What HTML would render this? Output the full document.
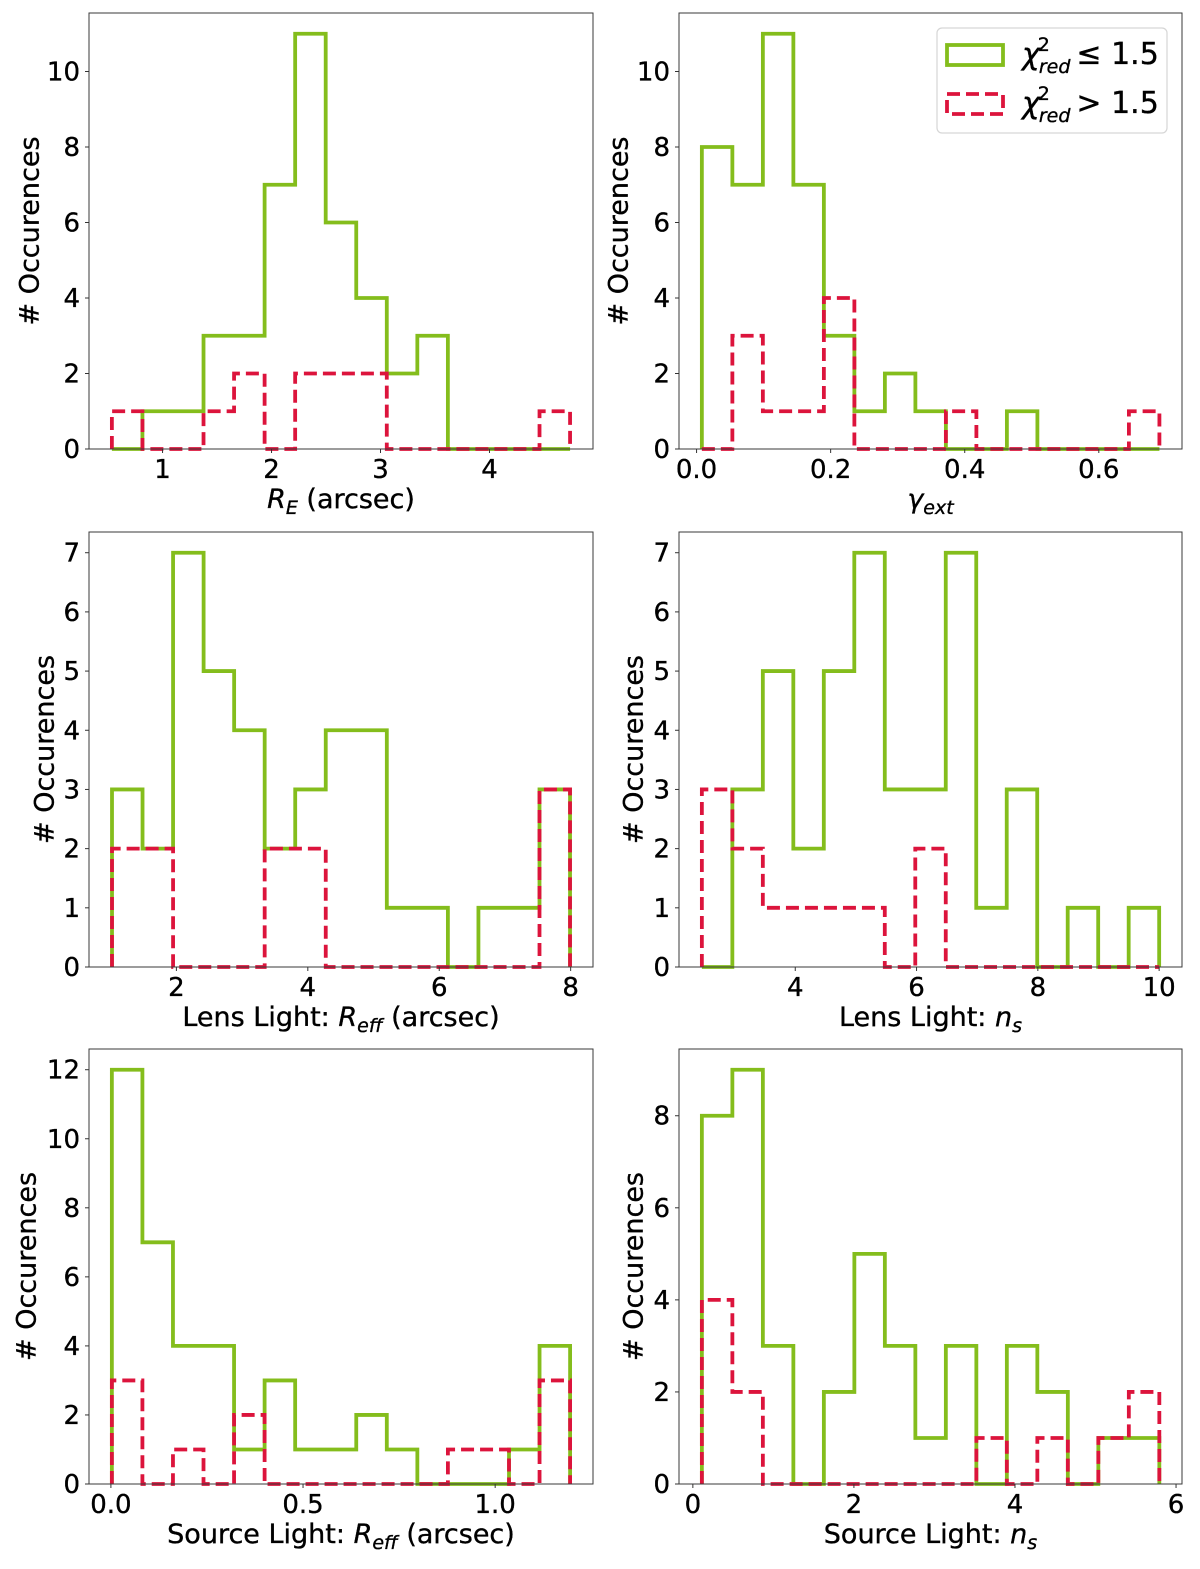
<!DOCTYPE html>
<html><head><meta charset="utf-8">
<style>
html,body{margin:0;padding:0;background:#fff;}
svg{display:block;font-family:"DejaVu Sans","Liberation Sans",sans-serif;}
text{stroke:#000;stroke-width:0.35px;}
</style></head>
<body>
<svg id="fig" width="1200" height="1569" viewBox="0 0 1200 1569" xmlns="http://www.w3.org/2000/svg">
<g id="legend">
  <rect x="937" y="28" width="230" height="105" rx="5" fill="#fff" stroke="#d6d6d6" stroke-width="1.2"/>
  <rect x="947" y="45" width="56" height="20" fill="none" stroke="#84bd1c" stroke-width="3.8"/>
  <text x="1022" y="64" font-size="30" fill="#000"><tspan font-style="italic">χ</tspan><tspan font-size="19" dy="-13" dx="-2">2</tspan><tspan font-size="19" font-style="italic" dy="22" dx="-11">red</tspan><tspan dy="-9" dx="6">≤ 1.5</tspan></text>
  <rect x="947" y="94" width="56" height="20" fill="none" stroke="#dc143c" stroke-width="3.8" stroke-dasharray="13,6"/>
  <text x="1022" y="113" font-size="30" fill="#000"><tspan font-style="italic">χ</tspan><tspan font-size="19" dy="-13" dx="-2">2</tspan><tspan font-size="19" font-style="italic" dy="22" dx="-11">red</tspan><tspan dy="-9" dx="6">&gt; 1.5</tspan></text>
</g>
</svg>
<script>
// Panel 1: Einstein radius
const p1Start = 0.535, p1Width = 0.2803;
const p1Good = [0,1,1,3,3,7,11,6,4,2,3,0,0,0,0];
const p1Bad  = [1,0,0,1,2,0,2,2,2,0,0,0,0,0,1];
const p1XTicks = [1,2,3,4];
const p1YTicks = [0,2,4,6,8,10];
// Panel 2: external shear
const p2Start = 0.0079, p2Width = 0.0455;
const p2Good = [8,7,11,7,3,1,2,1,0,0,1,0,0,0,0];
const p2Bad  = [0,3,1,1,4,0,0,0,1,0,0,0,0,0,1];
const p2XTicks = [0.0,0.2,0.4,0.6];
const p2XTickLabels = ["0.0","0.2","0.4","0.6"];
const p2YTicks = [0,2,4,6,8,10];
// Panel 3: lens light R_eff
const p3Start = 1.02, p3Width = 0.4647;
const p3Good = [3,2,7,5,4,2,3,4,4,1,1,0,1,1,3];
const p3Bad  = [2,2,0,0,0,2,2,0,0,0,0,0,0,0,3];
const p3XTicks = [2,4,6,8];
const p3YTicks = [0,1,2,3,4,5,6,7];
// Panel 4: lens light n_s
const p4Start = 2.46, p4Width = 0.5027;
const p4Good = [0,3,5,2,5,7,3,3,7,1,3,0,1,0,1];
const p4Bad  = [3,2,1,1,1,1,0,2,0,0,0,0,0,0,0];
const p4XTicks = [4,6,8,10];
const p4YTicks = [0,1,2,3,4,5,6,7];
// Panel 5: source light R_eff
const p5Start = 0.0025, p5Width = 0.0795;
const p5Good = [12,7,4,4,1,3,1,1,2,1,0,0,0,1,4];
const p5Bad  = [3,0,1,0,2,0,0,0,0,0,0,1,1,0,3];
const p5XTicks = [0.0,0.5,1.0];
const p5XTickLabels = ["0.0","0.5","1.0"];
const p5YTicks = [0,2,4,6,8,10,12];
// Panel 6: source light n_s
const p6Start = 0.112, p6Width = 0.3787;
const p6Good = [8,9,3,0,2,5,3,1,3,0,3,2,0,1,1];
const p6Bad  = [4,2,0,0,0,0,0,0,0,1,0,1,0,1,2];
const p6XTicks = [0,2,4,6];
const p6YTicks = [0,2,4,6,8];

const NS = "http://www.w3.org/2000/svg";
const svg = document.getElementById('fig');
const legend = document.getElementById('legend');
function mk(tag, attrs, parent){
  const e = document.createElementNS(NS, tag);
  for (const k in attrs) e.setAttribute(k, attrs[k]);
  (parent||svg).appendChild(e);
  return e;
}
function histPath(start, width, counts, sx, sy){
  let d = 'M' + sx(start) + ',' + sy(0);
  for (let i=0;i<counts.length;i++){
    const a = start + i*width, b = start + (i+1)*width;
    d += ' L' + sx(a) + ',' + sy(counts[i]) + ' L' + sx(b) + ',' + sy(counts[i]);
  }
  d += ' L' + sx(start + counts.length*width) + ',' + sy(0);
  return d;
}
function mathLabel(t, parts){
  for (const p of parts){
    const ts = mk('tspan', {}, t);
    ts.textContent = p.t;
    if (p.it) ts.setAttribute('font-style','italic');
    if (p.sub){ ts.setAttribute('font-size','19'); ts.setAttribute('dy','6'); }
    if (p.up){ ts.setAttribute('dy','-6'); }
  }
}
function panel(cfg){
  const {name, box, xdom, ymax, start, width, good, bad, xticks, xlabels, yticks, ylabX, xlabel} = cfg;
  const g = mk('g', {});
  
  
  const [L,T,R,B] = box;
  const ytop = ymax*1.05;
  const sx = v => L + (v - xdom[0])/(xdom[1]-xdom[0])*(R-L);
  const sy = v => B - v/ytop*(B-T);
  const gp = mk('path', {d: histPath(start,width,good,sx,sy), fill:'none', stroke:'#84bd1c', 'stroke-width':3.8, 'stroke-linejoin':'miter'}, g);
  
  
  const bp = mk('path', {d: histPath(start,width,bad,sx,sy), fill:'none', stroke:'#dc143c', 'stroke-width':3.8, 'stroke-dasharray':'13,6', 'stroke-linejoin':'miter'}, g);
  
  
  const fr = mk('rect', {x:L, y:T, width:R-L, height:B-T, fill:'none', stroke:'#3a3a3a', 'stroke-width':1}, g);
  
  
  xticks.forEach((v,i)=>{
    const x = sx(v);
    mk('line', {x1:x, x2:x, y1:B, y2:B+4, stroke:'#333', 'stroke-width':1}, g);
    const t = mk('text', {x:x, y:B+29, 'font-size':26, 'text-anchor':'middle', fill:'#000'}, g);
    
    
    t.textContent = xlabels ? xlabels[i] : String(v);
  });
  yticks.forEach(v=>{
    const y = sy(v);
    mk('line', {x1:L-4, x2:L, y1:y, y2:y, stroke:'#333', 'stroke-width':1}, g);
    const t = mk('text', {x:L-9, y:y+9, 'font-size':26, 'text-anchor':'end', fill:'#000'}, g);
    
    
    t.textContent = String(v);
  });
  const cy = (T+B)/2;
  const yl = mk('text', {x:ylabX, y:cy, 'font-size':27, 'text-anchor':'middle', transform:'rotate(-90 '+ylabX+' '+cy+')', 'dominant-baseline':'central', fill:'#000'}, g);
  
  
  yl.textContent = '# Occurences';
  const xl = mk('text', {x:(L+R)/2, y:B+59, 'font-size':27, 'text-anchor':'middle', fill:'#000'}, g);
  
  
  mathLabel(xl, xlabel);
}
panel({name:'einstein-radius-panel', box:[89,13,593,449], xdom:[0.325,4.95], ymax:11, start:p1Start, width:p1Width, good:p1Good, bad:p1Bad, xticks:p1XTicks, yticks:p1YTicks, ylabX:30,
  xlabel:[{t:'R',it:1},{t:'E',it:1,sub:1},{t:' (arcsec)',up:1}]});
panel({name:'external-shear-panel', box:[679,13,1182,449], xdom:[-0.0262,0.7241], ymax:11, start:p2Start, width:p2Width, good:p2Good, bad:p2Bad, xticks:p2XTicks, xlabels:p2XTickLabels, yticks:p2YTicks, ylabX:619,
  xlabel:[{t:'γ',it:1},{t:'ext',it:1,sub:1}]});
panel({name:'lens-light-reff-panel', box:[89,532,593,967], xdom:[0.67,8.34], ymax:7, start:p3Start, width:p3Width, good:p3Good, bad:p3Bad, xticks:p3XTicks, yticks:p3YTicks, ylabX:45,
  xlabel:[{t:'Lens Light: '},{t:'R',it:1},{t:'eff',it:1,sub:1},{t:' (arcsec)',up:1}]});
panel({name:'lens-light-ns-panel', box:[679,532,1182,967], xdom:[2.083,10.377], ymax:7, start:p4Start, width:p4Width, good:p4Good, bad:p4Bad, xticks:p4XTicks, yticks:p4YTicks, ylabX:634,
  xlabel:[{t:'Lens Light: '},{t:'n',it:1},{t:'s',it:1,sub:1}]});
panel({name:'source-light-reff-panel', box:[89,1049,593,1484], xdom:[-0.057,1.2546], ymax:12, start:p5Start, width:p5Width, good:p5Good, bad:p5Bad, xticks:p5XTicks, xlabels:p5XTickLabels, yticks:p5YTicks, ylabX:27,
  xlabel:[{t:'Source Light: '},{t:'R',it:1},{t:'eff',it:1,sub:1},{t:' (arcsec)',up:1}]});
panel({name:'source-light-ns-panel', box:[679,1049,1182,1484], xdom:[-0.172,6.074], ymax:9, start:p6Start, width:p6Width, good:p6Good, bad:p6Bad, xticks:p6XTicks, yticks:p6YTicks, ylabX:634,
  xlabel:[{t:'Source Light: '},{t:'n',it:1},{t:'s',it:1,sub:1}]});
svg.appendChild(legend);
</script>
</body></html>
